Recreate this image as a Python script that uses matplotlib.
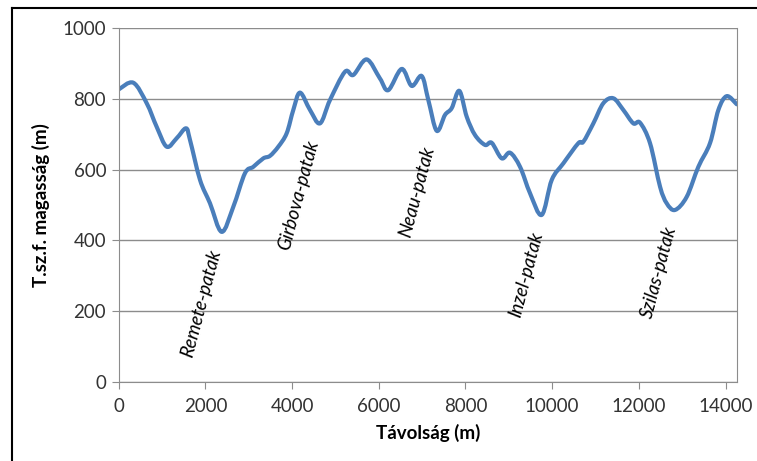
import matplotlib
matplotlib.use('Agg')
from matplotlib import pyplot as plt
from matplotlib.lines import Line2D
from matplotlib.path import Path
from matplotlib.patches import PathPatch

# profile (distance in m, elevation in m)
distance = [0, 337, 646, 877, 1107, 1338, 1552, 1645, 1876, 2106, 2376, 2644,
            2913, 3105, 3336, 3490, 3682, 3875, 4028, 4182, 4413, 4644, 4874,
            5220, 5412, 5720, 6027, 6219, 6528, 6759, 6990, 7143, 7336, 7528,
            7682, 7858, 8028, 8220, 8451, 8605, 8836, 9028, 9259, 9490, 9759,
            9990, 10258, 10604, 10719, 10950, 11180, 11411, 11641, 11872,
            12026, 12257, 12488, 12641, 12834, 13103, 13372, 13641, 13834,
            14026, 14257]
elevation = [827, 846, 788, 721, 665, 689, 717, 684, 571, 505, 424, 495,
             590, 608, 632, 639, 665, 703, 769, 818, 769, 731, 797,
             877, 868, 912, 858, 825, 885, 837, 865, 797, 710, 755,
             774, 823, 750, 698, 670, 676, 632, 648, 608, 533, 472,
             571, 618, 675, 679, 731, 788, 802, 769, 731,
             733, 675, 552, 505, 486, 523, 608, 675, 769,
             808, 785]

streams = ['Remete-patak', 'Girbova-patak', 'Neau-patak', 'Inzel-patak', 'Szilas-patak']
stream_x = [1903, 4143, 6887, 9402, 12465]
stream_y = [222, 528, 536, 302, 310]


def smooth_path(xs, ys):
    # Excel-style "smoothed line": bezier segments through the data points
    pts = list(zip(xs, ys))
    verts = [pts[0]]
    codes = [Path.MOVETO]
    n = len(pts)
    for i in range(n - 1):
        p0 = pts[i - 1] if i > 0 else pts[i]
        p1 = pts[i]
        p2 = pts[i + 1]
        p3 = pts[i + 2] if i + 2 < n else pts[i + 1]
        c1 = (p1[0] + (p2[0] - p0[0]) / 6, p1[1] + (p2[1] - p0[1]) / 6)
        c2 = (p2[0] - (p3[0] - p1[0]) / 6, p2[1] - (p3[1] - p1[1]) / 6)
        verts += [c1, c2, p2]
        codes += [Path.CURVE4] * 3
    return Path(verts, codes)


plt.rcParams['font.family'] = ['Lato', 'DejaVu Sans']

fig = plt.figure(figsize=(7.57, 4.61), dpi=100)
ax = fig.add_axes([0.1568, 0.172, 0.8164, 0.7666])

ax.add_patch(PathPatch(smooth_path(distance, elevation), fill=False,
                       edgecolor='#4a7ebb', linewidth=3.0,
                       joinstyle='round', capstyle='round'))

for name, sx, sy in zip(streams, stream_x, stream_y):
    ax.text(sx, sy, name, rotation=75, style='italic', fontsize=13.5,
            ha='center', va='center', color='black')

ax.set_xlim(0, 14257)
ax.set_ylim(0, 1000)
ax.set_xticks(range(0, 14001, 2000))
ax.set_yticks(range(0, 1001, 200))
ax.grid(axis='y', color='#8c8c8c', linewidth=1.0)
ax.set_axisbelow(True)
for side in ['left', 'bottom', 'right']:
    ax.spines[side].set_color('#8c8c8c')
ax.spines['top'].set_visible(False)
ax.tick_params(axis='both', colors='#8c8c8c', labelcolor='#333333',
               labelsize=13.5, length=5)
ax.tick_params(axis='x', pad=7)
ax.tick_params(axis='y', pad=4)

ax.set_xlabel('Távolság (m)', fontsize=13.5, fontweight='bold', labelpad=6)
ax.set_ylabel('T.sz.f. magasság (m)', fontsize=13.5, fontweight='bold', labelpad=9)

# black frame visible at the left and top edges of the original screenshot
fig.add_artist(Line2D([12 / 757, 12 / 757], [0, 1 - 8 / 461], color='black',
                      linewidth=1.5, transform=fig.transFigure))
fig.add_artist(Line2D([12 / 757, 1], [1 - 8 / 461, 1 - 8 / 461], color='black',
                      linewidth=1.5, transform=fig.transFigure))

fig.savefig('out.png', dpi=100)
